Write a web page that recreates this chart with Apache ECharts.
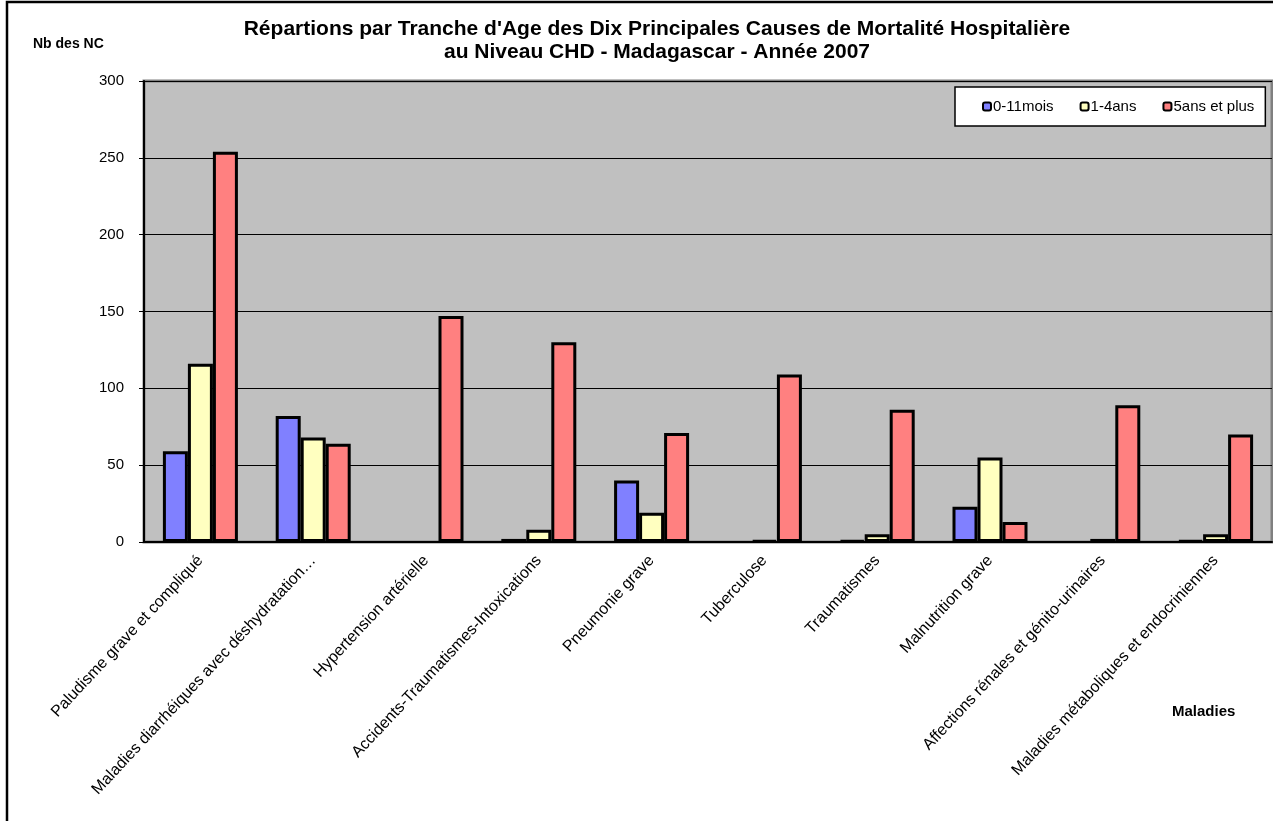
<!DOCTYPE html>
<html>
<head>
<meta charset="utf-8">
<title>Mortalité hospitalière CHD 2007</title>
<script src="https://cdn.jsdelivr.net/npm/echarts@6/dist/echarts.min.js"></script>
<style>
    html, body {margin: 0; padding: 0; background: #fff;}
    #main {width: 1273px; height: 821px;}
</style>
</head>
<body>
<div id="main"></div>
<script>
// categories (maladies)
var maladies = [
    'Paludisme grave et compliqué',
    'Maladies diarrhéiques avec déshydratation…',
    'Hypertension artérielle',
    'Accidents-Traumatismes-Intoxications',
    'Pneumonie grave',
    'Tuberculose',
    'Traumatismes',
    'Malnutrition grave',
    'Affections rénales et génito-urinaires',
    'Maladies métaboliques et endocriniennes'
];
// tranches d'age
var tranches = ['0-11mois', '1-4ans', '5ans et plus'];
var moins1an = [59, 82, 0, 2, 40, 0, 1, 23, 0, 1];
var de1a4ans = [116, 68, 0, 8, 19, 1, 5, 55, 2, 5];
var plus5ans = [254, 64, 147, 130, 71, 109, 86, 13, 89, 70];
var yTicks = [0, 50, 100, 150, 200, 250, 300];

var couleurs = ['#8080FF', '#FFFFC0', '#FF8080'];
var police = '"Liberation Sans", Arial, sans-serif';

var myChart = echarts.init(document.getElementById('main'));

function barSerie(nom, data, idx) {
    return {
        name: nom,
        type: 'bar',
        // les valeurs nulles ne sont pas dessinées (comme dans Excel)
        data: data.map(function (v) { return v === 0 ? '-' : v; }),
        barWidth: 25,
        barGap: '0%',
        itemStyle: {
            color: couleurs[idx],
            borderColor: '#000',
            borderWidth: 3
        }
    };
}

var option = {
    animation: false,
    textStyle: {fontFamily: police},
    legend: {
        data: tranches,
        left: 955,
        top: 87,
        padding: [12, 11, 12, 27],
        itemWidth: 8,
        itemHeight: 8,
        itemGap: 26,
        backgroundColor: '#fff',
        borderColor: '#000',
        borderWidth: 1.5,
        textStyle: {fontSize: 15, color: '#000', padding: [0, 0, 0, -3]},
        itemStyle: {borderWidth: 2, borderColor: '#000'}
    },
    grid: {
        left: 144,
        right: 1,
        top: 81,
        bottom: 279,
        show: true,
        backgroundColor: '#C0C0C0',
        borderColor: '#808080',
        borderWidth: 3
    },
    xAxis: {
        type: 'category',
        data: maladies,
        axisLine: {lineStyle: {color: '#000', width: 2}},
        axisTick: {inside: true, length: 4, lineStyle: {color: '#000'}},
        axisLabel: {
            rotate: 47,
            interval: 0,
            fontSize: 16,
            color: '#000',
            margin: 16
        }
    },
    yAxis: {
        type: 'value',
        min: yTicks[0],
        max: yTicks[yTicks.length - 1],
        interval: 50,
        axisLine: {show: true, lineStyle: {color: '#000', width: 2}},
        axisTick: {show: true, length: 5, lineStyle: {color: '#000'}},
        axisLabel: {fontSize: 15, color: '#000', margin: 20},
        splitLine: {lineStyle: {color: '#000', width: 1}}
    },
    series: [
        barSerie(tranches[0], moins1an, 0),
        barSerie(tranches[1], de1a4ans, 1),
        barSerie(tranches[2], plus5ans, 2)
    ],
    graphic: [
        // cadre du graphique
        {
            type: 'rect',
            shape: {x: 7, y: 2, width: 1300, height: 840},
            style: {fill: 'none', stroke: '#000', lineWidth: 2.5},
            silent: true
        },
        {
            type: 'text',
            x: 657,
            y: 18,
            style: {
                text: 'Répartions par Tranche d\'Age des Dix Principales Causes de Mortalité Hospitalière\nau Niveau CHD - Madagascar - Année 2007',
                align: 'center',
                font: 'bold 21px ' + police,
                lineHeight: 23,
                fill: '#000'
            }
        },
        {
            type: 'text',
            x: 33,
            y: 37,
            style: {
                text: 'Nb des NC',
                font: 'bold 14px ' + police,
                fill: '#000'
            }
        },
        {
            type: 'text',
            x: 1172,
            y: 704,
            style: {
                text: 'Maladies',
                font: 'bold 15px ' + police,
                fill: '#000'
            }
        }
    ]
};

option && myChart.setOption(option);
</script>
</body>
</html>
